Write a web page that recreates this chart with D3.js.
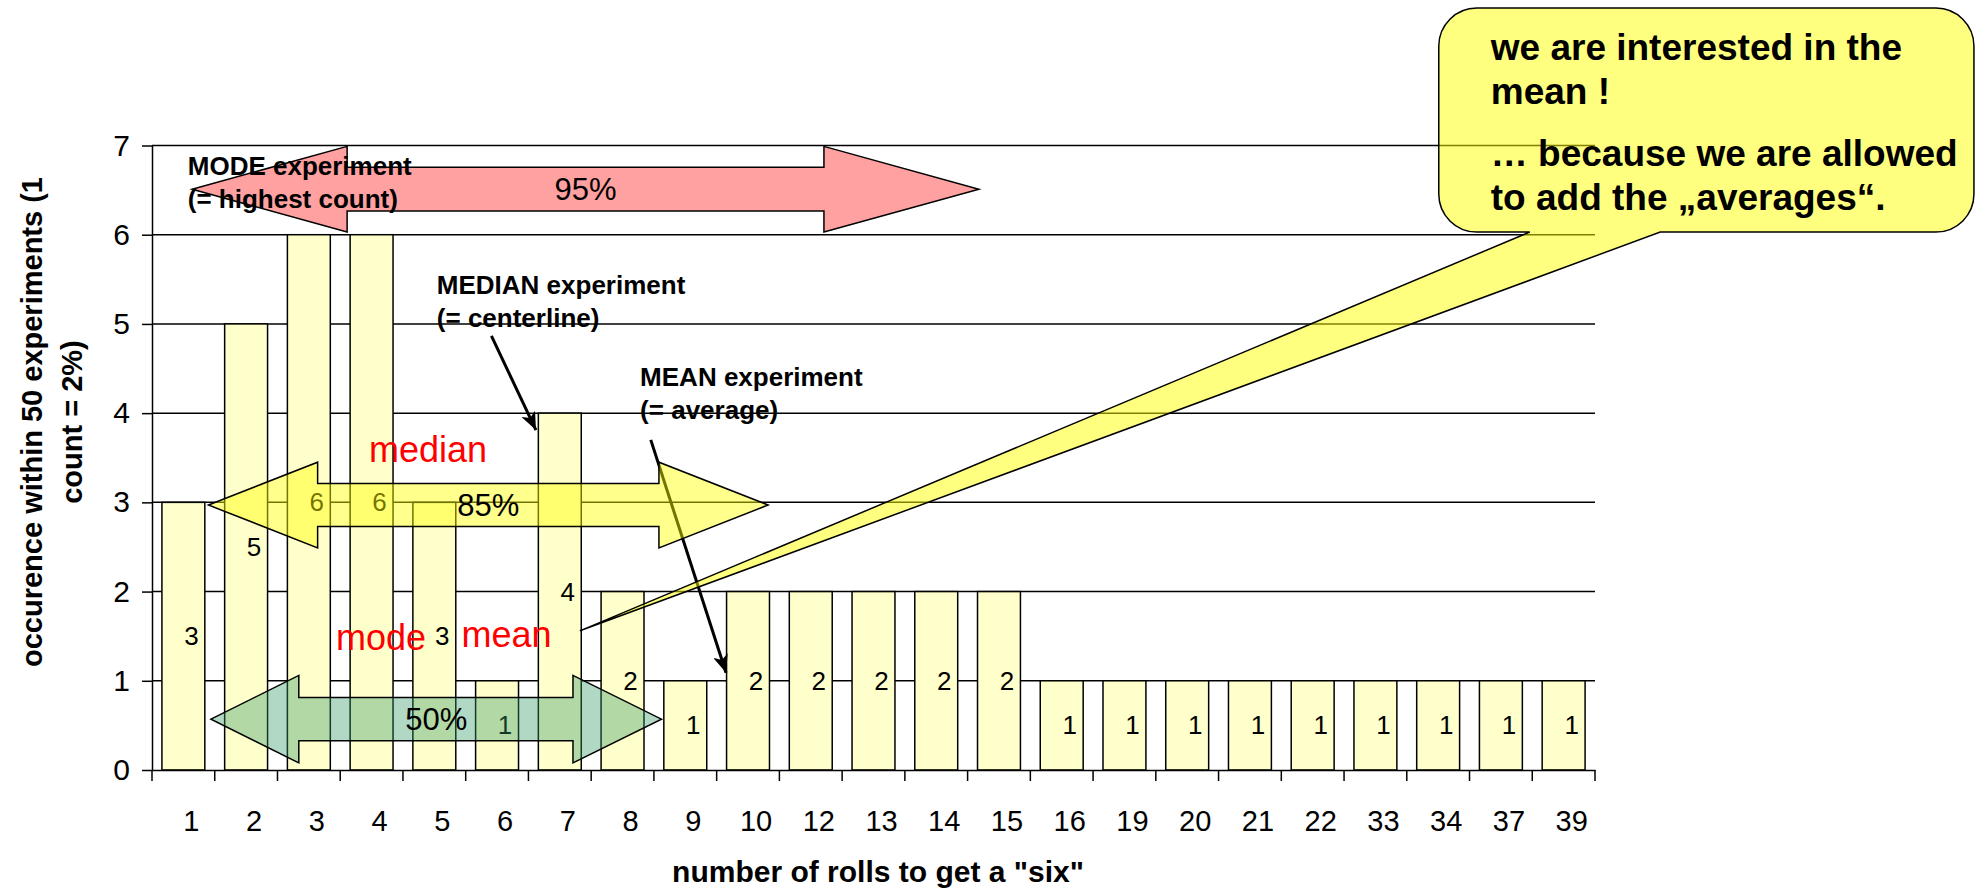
<!DOCTYPE html>
<html>
<head>
<meta charset="utf-8">
<script src="https://cdn.jsdelivr.net/npm/d3@7"></script>
<style>
  body { margin: 0; background: #fff; }
  svg { display: block; font-family: Arial, "Liberation Sans", sans-serif; }
</style>
</head>
<body>
<div id="chart"></div>
<script>
var width = 1981;
var height = 890;

// number of rolls needed to get a "six", and how often it happened in 50 experiments
var rolls = ["1","2","3","4","5","6","7","8","9","10","12","13","14","15","16","19","20","21","22","33","34","37","39"];
var counts = [3,5,6,6,3,1,4,2,1,2,2,2,2,2,1,1,1,1,1,1,1,1,1];
var yTicks = [0,1,2,3,4,5,6,7];

// annotations, placed in chart units (u = category slots from the left, v = count)
var spanArrows = [
  {label: "95%", fill: "#ff0000", opacity: 0.37, tipL: 0.64, baseL: 3.11, baseR: 10.71, tipR: 13.18, v: 6.51, head: 0.48, body: 0.245},
  {label: "85%", fill: "#ffff00", opacity: 0.45, tipL: 0.90, baseL: 2.64, baseR: 8.08, tipR: 9.82, v: 2.97, head: 0.48, body: 0.24},
  {label: "50%", fill: "#339966", opacity: 0.38, tipL: 0.94, baseL: 2.34, baseR: 6.71, tipR: 8.12, v: 0.57, head: 0.49, body: 0.243}
];
var redWords = [
  {text: "median", u: 4.40, v: 3.45},
  {text: "mode", u: 3.65, v: 1.345},
  {text: "mean", u: 5.65, v: 1.38}
];
var notes = [
  {lines: ["MODE experiment", "(= highest count)"], u: 0.57, v: 6.67},
  {lines: ["MEDIAN experiment", "(= centerline)"], u: 4.54, v: 5.34},
  {lines: ["MEAN experiment", "(= average)"], u: 7.78, v: 4.30}
];
var pointers = [
  {u1: 5.41, v1: 4.865, u2: 6.12, v2: 3.81},
  {u1: 7.95, v1: 3.70, u2: 9.15, v2: 1.09}
];
var callout = {left: 20.51, right: 29.04, top: 8.54, bottom: 6.03, baseL: 21.96, baseR: 24.04, tipU: 6.82, tipV: 1.56};
var calloutLines = ["we are interested in the", "mean !", "\u2026 because we are allowed", "to add the \u201eaverages\u201c."];

var plot = {left: 152, right: 1595, top: 145.5, bottom: 770};

var svg = d3.select("#chart")
            .append("svg")
            .attr("width", width)
            .attr("height", height);

var x = d3.scaleBand()
          .domain(rolls)
          .range([plot.left, plot.right])
          .paddingInner(0.316)
          .paddingOuter(0.158);

// same range as x, but continuous, for tick marks and annotations
var xu = d3.scaleLinear().domain([0, rolls.length]).range([plot.left, plot.right]);

var y = d3.scaleLinear().domain([0, 7]).range([plot.bottom, plot.top]);

var defs = svg.append("defs");
defs.append("marker")
    .attr("id", "head")
    .attr("viewBox", "0 0 12 10")
    .attr("refX", 12)
    .attr("refY", 5)
    .attr("markerUnits", "userSpaceOnUse")
    .attr("markerWidth", 18)
    .attr("markerHeight", 15)
    .attr("orient", "auto")
    .append("path")
    .attr("d", "M0,0 L12,5 L0,10 L3,5 Z")
    .attr("fill", "#000");

// gridlines
svg.append("g")
   .selectAll("line")
   .data(yTicks.slice(1))
   .enter()
   .append("line")
   .attr("x1", plot.left)
   .attr("x2", plot.right)
   .attr("y1", function(d){ return y(d); })
   .attr("y2", function(d){ return y(d); })
   .attr("stroke", "#000")
   .attr("stroke-width", 1.5);

// bars
svg.append("g")
   .selectAll("rect")
   .data(counts)
   .enter()
   .append("rect")
   .attr("x", function(d, i){ return x(rolls[i]); })
   .attr("width", x.bandwidth())
   .attr("y", function(d){ return y(d); })
   .attr("height", function(d){ return y(0) - y(d); })
   .attr("fill", "#ffffcc")
   .attr("stroke", "#000")
   .attr("stroke-width", 1.5);

// value labels in the middle of each bar
svg.append("g")
   .selectAll("text")
   .data(counts)
   .enter()
   .append("text")
   .attr("x", function(d, i){ return x(rolls[i]) + x.bandwidth() / 2 + 8; })
   .attr("y", function(d){ return y(d / 2); })
   .attr("dy", "0.35em")
   .attr("text-anchor", "middle")
   .attr("font-size", 26)
   .text(function(d){ return d; });

// y axis
var yAxis = svg.append("g")
   .attr("transform", "translate(" + plot.left + ",0)")
   .call(d3.axisLeft(y).tickValues(yTicks).tickFormat(d3.format("d")).tickSize(10).tickSizeOuter(0).tickPadding(12));
yAxis.selectAll("text").attr("font-size", 30).attr("fill", "#000").attr("font-family", null);
yAxis.selectAll("line, path").attr("stroke", "#000").attr("stroke-width", 1.5);

// x axis (labels sit a little right of the bar centre, ticks on the slot edges)
var xAxis = svg.append("g")
   .attr("transform", "translate(0," + plot.bottom + ")")
   .call(d3.axisBottom(x).tickSize(0).tickSizeOuter(0).tickPadding(40));
xAxis.selectAll("text").attr("font-size", 29).attr("fill", "#000").attr("font-family", null).attr("dx", 8);
xAxis.select(".domain").attr("stroke", "#000").attr("stroke-width", 1.5);

svg.append("g")
   .selectAll("line")
   .data(d3.range(rolls.length + 1))
   .enter()
   .append("line")
   .attr("x1", function(d){ return xu(d); })
   .attr("x2", function(d){ return xu(d); })
   .attr("y1", plot.bottom)
   .attr("y2", plot.bottom + 11)
   .attr("stroke", "#000")
   .attr("stroke-width", 1.5);

// axis titles
var yTitle = svg.append("text")
   .attr("transform", "translate(0," + 422 + ") rotate(-90)")
   .attr("text-anchor", "middle")
   .attr("font-size", 29)
   .attr("font-weight", "bold");
yTitle.append("tspan").attr("x", 0).attr("y", 42).text("occurence within 50 experiments (1");
yTitle.append("tspan").attr("x", 0).attr("y", 82).text("count = 2%)");

svg.append("text")
   .attr("x", 878)
   .attr("y", 882)
   .attr("text-anchor", "middle")
   .attr("font-size", 30)
   .attr("font-weight", "bold")
   .text("number of rolls to get a \"six\"");

// black pointer arrows to median / mean experiments
svg.append("g")
   .selectAll("line")
   .data(pointers)
   .enter()
   .append("line")
   .attr("x1", function(d){ return xu(d.u1); })
   .attr("y1", function(d){ return y(d.v1); })
   .attr("x2", function(d){ return xu(d.u2); })
   .attr("y2", function(d){ return y(d.v2); })
   .attr("stroke", "#000")
   .attr("stroke-width", 3)
   .attr("marker-end", "url(#head)");

// double headed span arrows
function arrowPath(a){
  var yc = y(a.v);
  var ht = y(a.v + a.head), hb = y(a.v - a.head);
  var bt = y(a.v + a.body), bb = y(a.v - a.body);
  var pts = [
    [xu(a.tipL), yc], [xu(a.baseL), ht], [xu(a.baseL), bt], [xu(a.baseR), bt],
    [xu(a.baseR), ht], [xu(a.tipR), yc], [xu(a.baseR), hb], [xu(a.baseR), bb],
    [xu(a.baseL), bb], [xu(a.baseL), hb]
  ];
  return d3.line()(pts) + "Z";
}

svg.append("g")
   .selectAll("path")
   .data(spanArrows)
   .enter()
   .append("path")
   .attr("d", arrowPath)
   .attr("fill", function(d){ return d.fill; })
   .attr("fill-opacity", function(d){ return d.opacity; })
   .attr("stroke", "#000")
   .attr("stroke-width", 1.5);

svg.append("g")
   .selectAll("text")
   .data(spanArrows)
   .enter()
   .append("text")
   .attr("x", function(d){ return xu((d.tipL + d.tipR) / 2); })
   .attr("y", function(d){ return y(d.v); })
   .attr("dy", "0.35em")
   .attr("text-anchor", "middle")
   .attr("font-size", 31)
   .text(function(d){ return d.label; });

// red words
svg.append("g")
   .selectAll("text")
   .data(redWords)
   .enter()
   .append("text")
   .attr("x", function(d){ return xu(d.u); })
   .attr("y", function(d){ return y(d.v); })
   .attr("text-anchor", "middle")
   .attr("font-size", 36)
   .attr("fill", "#ff0000")
   .text(function(d){ return d.text; });

// bold notes
var note = svg.append("g")
   .selectAll("text")
   .data(notes)
   .enter()
   .append("text")
   .attr("x", function(d){ return xu(d.u); })
   .attr("y", function(d){ return y(d.v); })
   .attr("font-size", 26)
   .attr("font-weight", "bold");
note.selectAll("tspan")
    .data(function(d){ return d.lines.map(function(l){ return {text: l, u: d.u}; }); })
    .enter()
    .append("tspan")
    .attr("x", function(d){ return xu(d.u); })
    .attr("dy", function(d, i){ return i == 0 ? 0 : 33; })
    .text(function(d){ return d.text; });

// speech bubble callout
var L = xu(callout.left), R = xu(callout.right), T = y(callout.top), B = y(callout.bottom), r = 38;
var p = d3.path();
p.moveTo(L + r, T);
p.lineTo(R - r, T);
p.arcTo(R, T, R, T + r, r);
p.lineTo(R, B - r);
p.arcTo(R, B, R - r, B, r);
p.lineTo(xu(callout.baseR), B);
p.lineTo(xu(callout.tipU), y(callout.tipV));
p.lineTo(xu(callout.baseL), B);
p.lineTo(L + r, B);
p.arcTo(L, B, L, B - r, r);
p.lineTo(L, T + r);
p.arcTo(L, T, L + r, T, r);
p.closePath();

svg.append("path")
   .attr("d", p.toString())
   .attr("fill", "#ffff00")
   .attr("fill-opacity", 0.5)
   .attr("stroke", "#000")
   .attr("stroke-width", 1.5);

var lineOffsets = [52, 96, 158, 202];
svg.append("g")
   .selectAll("text")
   .data(calloutLines)
   .enter()
   .append("text")
   .attr("x", L + 52)
   .attr("y", function(d, i){ return T + lineOffsets[i]; })
   .attr("font-size", 37)
   .attr("font-weight", "bold")
   .text(function(d){ return d; });
</script>
</body>
</html>
